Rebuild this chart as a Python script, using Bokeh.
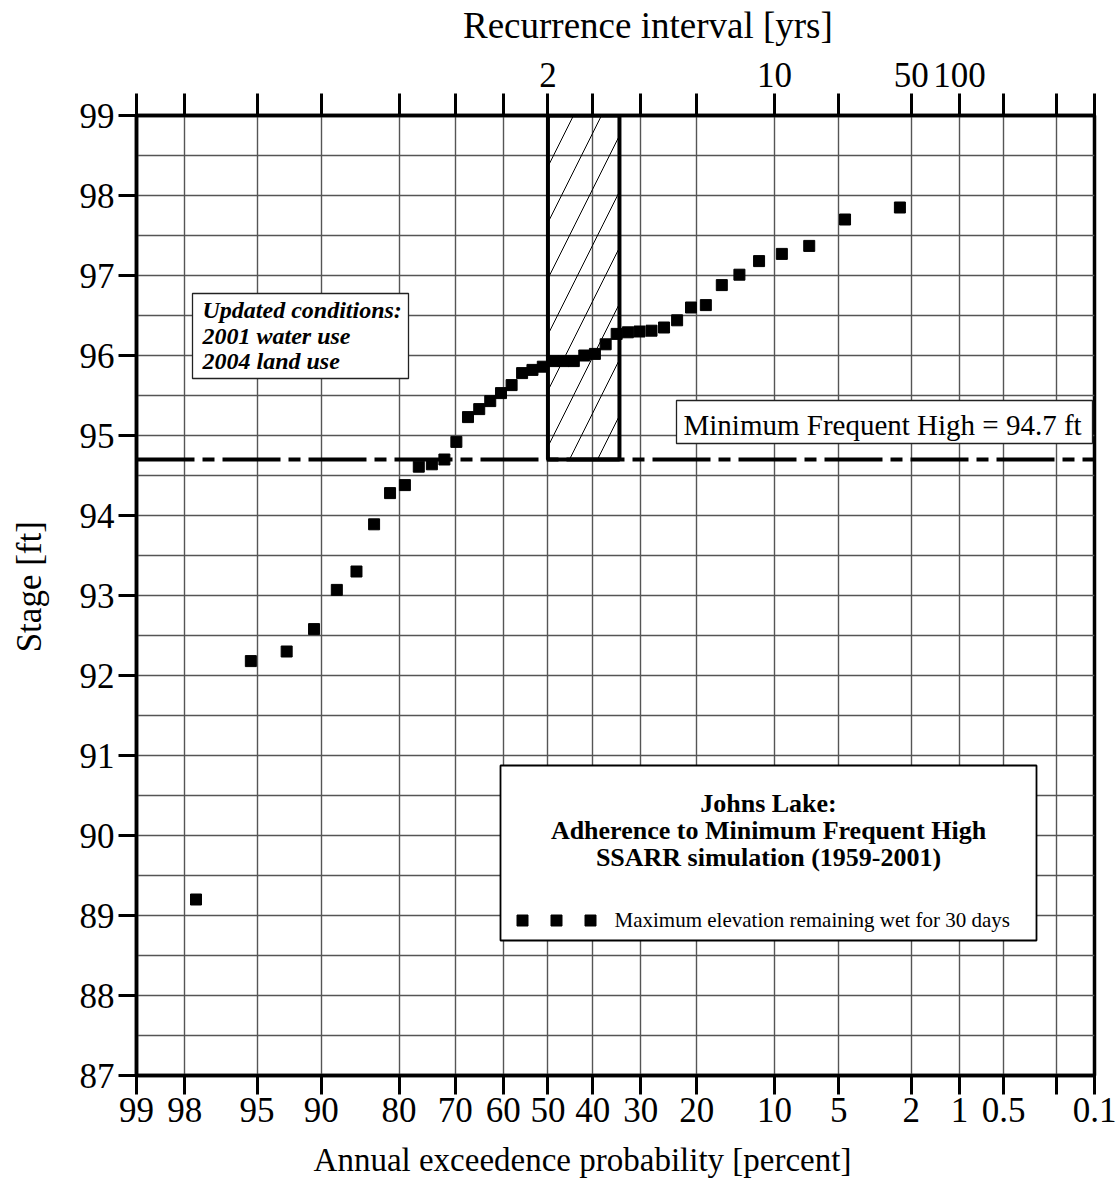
from statistics import NormalDist
from bokeh.plotting import figure
from bokeh.models import Range1d, LinearAxis, FixedTicker, Grid, Span, Label, AllLabels
from bokeh.embed import file_html
from bokeh.resources import INLINE

# ---------------- data ----------------
exceed_pct = [2.33, 4.65, 6.98, 9.30, 11.63, 13.95, 16.28, 18.60, 20.93, 23.26,
              25.58, 27.91, 30.23, 32.56, 34.88, 37.21, 39.53, 41.86, 44.19, 46.51,
              48.84, 51.16, 53.49, 55.81, 58.14, 60.47, 62.79, 65.12, 67.44, 69.77,
              72.09, 74.42, 76.74, 79.07, 81.40, 83.72, 86.05, 88.37, 90.70, 93.02,
              95.35, 97.67]
stage_ft = [97.85, 97.70, 97.37, 97.27, 97.18, 97.01, 96.88, 96.63, 96.60, 96.44,
            96.35, 96.31, 96.30, 96.29, 96.27, 96.14, 96.02, 96.00, 95.93, 95.93,
            95.93, 95.86, 95.82, 95.78, 95.63, 95.53, 95.43, 95.33, 95.23, 94.92,
            94.70, 94.64, 94.61, 94.38, 94.28, 93.89, 93.30, 93.07, 92.58, 92.30,
            92.18, 89.20]
prob_ticks = [99, 98, 95, 90, 80, 70, 60, 50, 40, 30, 20, 10, 5, 2, 1, 0.5, 0.2, 0.1]
prob_labels = ["99", "98", "95", "90", "80", "70", "60", "50", "40", "30", "20",
               "10", "5", "2", "1", "0.5", "", "0.1"]
recurrence_yrs = [2, 10, 50, 100]
stage_ticks = [87, 88, 89, 90, 91, 92, 93, 94, 95, 96, 97, 98, 99]
stage_grid = [87 + 0.5 * i for i in range(25)]
mfh_level = 94.7
window_pct = [50, 34.3]
stage_min, stage_max = 87, 99

FONT = "Liberation Serif"
NB = "\u00a0"
N = NormalDist()


def zx(p):
    return N.inv_cdf(1 - p / 100.0)


x0, x1 = zx(prob_ticks[0]), zx(prob_ticks[-1])
W, H = 1116, 1192
FL, FT, FW, FH = 136, 115, 958, 960  # frame geometry inside the canvas

p = figure(width=W, height=H, x_range=Range1d(x0, x1), y_range=Range1d(stage_min, stage_max),
           x_axis_type=None, y_axis_type=None, output_backend="svg", toolbar_location=None,
           min_border_left=FL, min_border_right=W - FL - FW, min_border_top=FT,
           min_border_bottom=H - FT - FH,
           outline_line_color="black", outline_line_width=3.5, outline_line_alpha=1.0,
           background_fill_color="white", border_fill_color="white")


# helpers: canvas pixel -> data coords, for annotation placement
def dx(px):
    return x0 + (px - FL) * (x1 - x0) / FW


def dy(py):
    return stage_max - (py - FT) * (stage_max - stage_min) / FH


tick_x = [zx(v) for v in prob_ticks]
bottom_over = {t: l for t, l in zip(tick_x, prob_labels)}
top_over = {t: "" for t in tick_x}
for T in recurrence_yrs:
    top_over[zx(100.0 / T)] = str(T)


def style_axis(ax, tick_out, lab_standoff, title_size, title_standoff):
    ax.axis_line_width = 3.5
    ax.axis_line_color = "black"
    ax.major_tick_line_width = 3
    ax.major_tick_line_color = "black"
    ax.major_tick_out = tick_out
    ax.major_tick_in = 0
    ax.minor_tick_line_color = None
    ax.major_label_text_font = FONT
    ax.major_label_text_font_size = "35px"
    ax.major_label_text_color = "black"
    ax.major_label_standoff = lab_standoff
    ax.axis_label_text_font = FONT
    ax.axis_label_text_font_size = title_size
    ax.axis_label_text_font_style = "normal"
    ax.axis_label_text_color = "black"
    ax.axis_label_standoff = title_standoff
    ax.major_label_policy = AllLabels()


# axis titles sit off-centre in the original; non-breaking spaces shift them
bottom = LinearAxis(ticker=FixedTicker(ticks=tick_x), major_label_overrides=bottom_over,
                    axis_label="Annual exceedence probability [percent]" + NB * 8)
style_axis(bottom, 19, 3, "33px", 17)
p.add_layout(bottom, "below")

top = LinearAxis(ticker=FixedTicker(ticks=tick_x), major_label_overrides=top_over,
                 axis_label=NB * 7 + "Recurrence interval [yrs]")
style_axis(top, 22, 7, "37px", 14)
p.add_layout(top, "above")

left = LinearAxis(ticker=FixedTicker(ticks=stage_ticks), axis_label=NB * 2 + "Stage [ft]")
style_axis(left, 18, 4, "35px", 28)
p.add_layout(left, "left")

p.add_layout(Grid(dimension=0, ticker=FixedTicker(ticks=tick_x),
                  grid_line_color="#555555", grid_line_width=1.4))
p.add_layout(Grid(dimension=1, ticker=FixedTicker(ticks=stage_grid),
                  grid_line_color="#555555", grid_line_width=1.4))

# hatched window between 2-yr and ~3-yr recurrence
p.quad(left=[zx(window_pct[0])], right=[zx(window_pct[1])], bottom=[mfh_level], top=[stage_max],
       fill_alpha=0, hatch_pattern="/", hatch_scale=56, hatch_weight=1, hatch_color="black",
       line_color="black", line_width=4)

# data points
p.scatter(x=[zx(v) for v in exceed_pct], y=stage_ft, marker="square", size=11,
          color="black")

# minimum frequent high line
p.add_layout(Span(location=mfh_level, dimension="width", line_color="black", line_width=4,
                  line_dash="58 8 12 8"))

# text boxes
box_style = dict(fill_color="white", line_color="#222222", line_width=1.3)
p.quad(left=[dx(192)], right=[dx(408)], top=[dy(293)], bottom=[dy(378)], **box_style)
p.quad(left=[dx(676)], right=[dx(1092)], top=[dy(400)], bottom=[dy(443)], **box_style)
p.quad(left=[dx(500)], right=[dx(1036)], top=[dy(765)], bottom=[dy(940)],
       fill_color="white", line_color="black", line_width=1.8)

# legend key squares
p.scatter(x=[dx(522), dx(556), dx(590)], y=[dy(920)] * 3, marker="square", size=11,
          color="black")


def add_label(text, px, py, size, style="normal", align="left"):
    p.add_layout(Label(x=dx(px), y=dy(py), text=text, text_font=FONT,
                       text_font_size=size, text_font_style=style, text_align=align,
                       text_baseline="alphabetic", text_color="black"))


SH = 8  # vertical correction of label baselines
add_label("Updated conditions:", 202, 317 - SH, "24px", "bold italic")
add_label("2001 water use", 202, 343 - SH, "24px", "bold italic")
add_label("2004 land use", 202, 368 - SH, "24px", "bold italic")

add_label("Minimum Frequent High = 94.7 ft", 683, 432 - SH, "29px")

add_label("Johns Lake:", 768, 811 - SH, "26px", "bold", "center")
add_label("Adherence to Minimum Frequent High", 768, 838 - SH, "26px", "bold", "center")
add_label("SSARR simulation (1959-2001)", 768, 865 - SH, "26px", "bold", "center")
add_label("Maximum elevation remaining wet for 30 days", 614, 927 - SH, "21px")

open("out.html", "w").write(file_html(p, INLINE))
